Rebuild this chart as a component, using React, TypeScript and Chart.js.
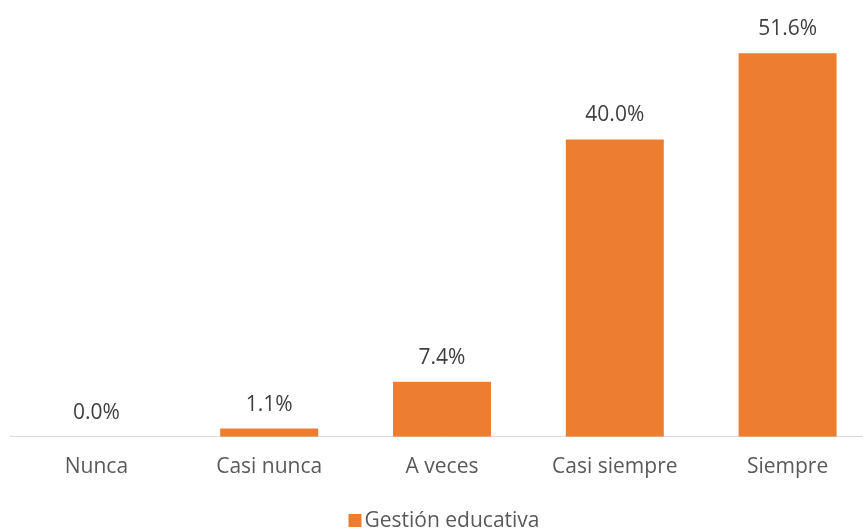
import React, { useEffect, useRef } from "react";
import { Chart, registerables } from "chart.js";

Chart.register(...registerables);

const categories = ["Nunca", "Casi nunca", "A veces", "Casi siempre", "Siempre"];
const values = [0.0, 1.1, 7.4, 40.0, 51.6];
const seriesName = "Gestión educativa";

const FONT = "'Open Sans', sans-serif";
const BAR_COLOR = "#ED7D31";

const labelPlugin = {
  id: "valueLabels",
  afterDatasetsDraw(chart: any) {
    const ctx = chart.ctx;
    const meta = chart.getDatasetMeta(0);
    ctx.save();
    ctx.font = `21px ${FONT}`;
    ctx.fillStyle = "#404040";
    ctx.textAlign = "center";
    ctx.textBaseline = "alphabetic";
    meta.data.forEach((bar: any, i: number) => {
      ctx.fillText(values[i].toFixed(1) + "%", bar.x, bar.y - 18);
    });
    // legend
    ctx.font = `21px ${FONT}`;
    const tw = ctx.measureText(seriesName).width;
    const box = 13;
    const gap = 3;
    const total = box + gap + tw;
    const cx = (chart.chartArea.left + chart.chartArea.right) / 2 + 2;
    const x0 = cx - total / 2;
    const baseY = 527;
    ctx.fillStyle = BAR_COLOR;
    ctx.fillRect(x0, baseY - 13, box, box);
    ctx.fillStyle = "#595959";
    ctx.textAlign = "left";
    ctx.fillText(seriesName, x0 + box + gap, baseY);
    ctx.restore();
  },
};

export default function App() {
  const ref = useRef<HTMLCanvasElement>(null);
  useEffect(() => {
    const chart = new Chart(ref.current!, {
      type: "bar",
      data: {
        labels: categories,
        datasets: [
          {
            label: seriesName,
            data: values,
            backgroundColor: BAR_COLOR,
            barPercentage: 0.567,
            categoryPercentage: 1,
          },
        ],
      },
      options: {
        responsive: false,
        animation: false,
        layout: { padding: { left: 10, right: 10, top: 28, bottom: 31 } },
        scales: {
          x: {
            grid: { display: false, drawTicks: false },
            border: { color: "#D9D9D9", width: 1 },
            ticks: { color: "#595959", font: { size: 21, family: FONT }, padding: 18 },
          },
          y: { display: false, min: 0, max: 55 },
        },
        plugins: {
          legend: { display: false },
          tooltip: { enabled: false },
        },
      },
      plugins: [labelPlugin],
    });
    return () => chart.destroy();
  }, []);
  return (
    <div style={{ position: "fixed", left: 0, top: 0, width: 884, height: 529, background: "#fff" }}>
      <canvas ref={ref} width={884} height={529} />
    </div>
  );
}
